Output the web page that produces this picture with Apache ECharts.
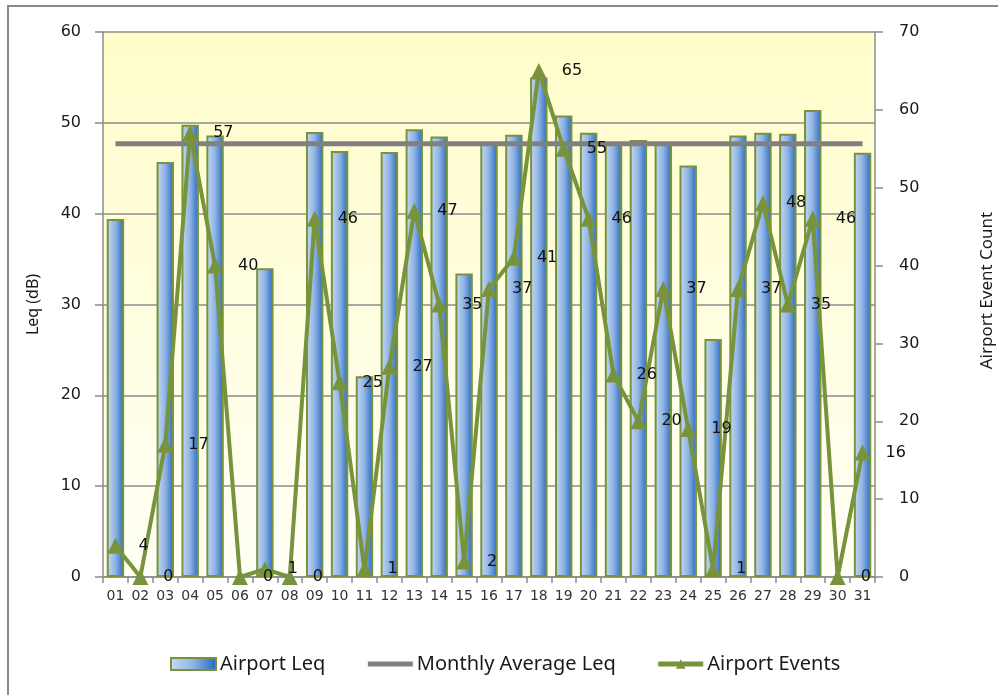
<!DOCTYPE html>
<html>
<head>
<meta charset="utf-8">
<script src="https://cdn.jsdelivr.net/npm/echarts@6/dist/echarts.min.js"></script>
<style>
html,body{margin:0;padding:0;background:#fff;}
#chart{width:998px;height:695px;}
</style>
</head>
<body>
<div id="chart"></div>
<script>
var days = ['01','02','03','04','05','06','07','08','09','10','11','12','13','14','15','16','17','18','19','20','21','22','23','24','25','26','27','28','29','30','31'];
var airportLeq = [39.4,'-',45.7,49.8,48.6,'-',34.0,'-',49.0,46.9,22.1,46.8,49.3,48.5,33.4,47.7,48.7,55.0,50.8,48.9,47.8,48.1,47.7,45.3,26.2,48.6,48.9,48.8,51.4,'-',46.7];
var monthlyAverage = [47.7,47.7,47.7,47.7,47.7,47.7,47.7,47.7,47.7,47.7,47.7,47.7,47.7,47.7,47.7,47.7,47.7,47.7,47.7,47.7,47.7,47.7,47.7,47.7,47.7,47.7,47.7,47.7,47.7,47.7,47.7];
var airportEvents = [4,0,17,57,40,0,1,0,46,25,1,27,47,35,2,37,41,65,55,46,26,20,37,19,1,37,48,35,46,0,16];

var chart = echarts.init(document.getElementById('chart'));
var green = '#77933C';
var axisGrey = '#8c8c8c';
var numFont = 'DejaVu Sans';
var txtFont = 'Noto Sans';

chart.setOption({
  animation: false,
  backgroundColor: '#ffffff',
  graphic: [{
    type: 'rect', z: -10,
    shape: {x: 8, y: 6, width: 1100, height: 800},
    style: {fill: 'none', stroke: '#8a8a8a', lineWidth: 2}
  }],
  grid: {
    left: 103, right: 123, top: 32, bottom: 118,
    outerBoundsMode: 'none', containLabel: false,
    show: true, borderWidth: 0,
    backgroundColor: new echarts.graphic.LinearGradient(0, 0, 0, 1, [
      {offset: 0, color: '#FFFDC9'},
      {offset: 1, color: '#FFFFF6'}
    ])
  },
  legend: {
    bottom: 16, left: 165,
    itemWidth: 45, itemHeight: 12, itemGap: 40,
    textStyle: {fontFamily: txtFont, fontSize: 20, color: '#1a1a1a', padding: [0,0,0,-1]},
    data: [
      {name: 'Airport Leq', icon: 'rect'},
      {name: 'Monthly Average Leq', itemStyle: {opacity: 0}, lineStyle: {width: 5, color: '#808080'}},
      {name: 'Airport Events', lineStyle: {width: 5, color: green}}
    ]
  },
  xAxis: {
    type: 'category', data: days, boundaryGap: true,
    axisLine: {lineStyle: {color: axisGrey, width: 1.5}},
    axisTick: {show: true, length: 6, lineStyle: {color: axisGrey, width: 1.5}},
    axisLabel: {fontFamily: numFont, fontSize: 14, color: '#333', margin: 12, interval: 0}
  },
  yAxis: [{
    type: 'value', min: 0, max: 60, interval: 10,
    name: 'Leq (dB)', nameLocation: 'middle', nameGap: 62, nameRotate: 90,
    nameTextStyle: {fontFamily: txtFont, fontSize: 16, color: '#1a1a1a'},
    axisLine: {show: true, lineStyle: {color: axisGrey, width: 1.5}},
    axisTick: {show: true, length: 8, lineStyle: {color: axisGrey, width: 1.5}},
    axisLabel: {fontFamily: numFont, fontSize: 16, color: '#1a1a1a', margin: 22},
    splitLine: {show: true, lineStyle: {color: axisGrey, width: 1.5}}
  }, {
    type: 'value', min: 0, max: 70, interval: 10, position: 'right',
    name: 'Airport Event Count', nameLocation: 'middle', nameGap: 104, nameRotate: 90,
    nameTextStyle: {fontFamily: txtFont, fontSize: 17, color: '#1a1a1a', padding: [0,0,0,28]},
    axisLine: {show: true, lineStyle: {color: axisGrey, width: 1.5}},
    axisTick: {show: true, length: 8, lineStyle: {color: axisGrey, width: 1.5}},
    axisLabel: {fontFamily: numFont, fontSize: 16, color: '#1a1a1a', margin: 24},
    splitLine: {show: false}
  }],
  series: [{
    name: 'Airport Leq', type: 'bar', yAxisIndex: 0, data: airportLeq,
    barWidth: '70%', z: 2,
    itemStyle: {
      color: new echarts.graphic.LinearGradient(0, 0, 1, 0, [
        {offset: 0, color: '#C8DBF2'},
        {offset: 0.5, color: '#8EB3E3'},
        {offset: 1, color: '#2466C2'}
      ]),
      borderColor: green, borderWidth: 2
    }
  }, {
    name: 'Monthly Average Leq', type: 'line', yAxisIndex: 0, data: monthlyAverage,
    symbol: 'none', z: 3,
    lineStyle: {color: '#808080', width: 5},
    itemStyle: {color: '#808080'}
  }, {
    name: 'Airport Events', type: 'line', yAxisIndex: 1, data: airportEvents,
    symbol: 'triangle', symbolSize: 16, z: 4,
    lineStyle: {color: green, width: 4},
    itemStyle: {color: green},
    label: {show: true, position: 'right', distance: 15, fontFamily: numFont, fontSize: 16, color: '#111'}
  }]
});
</script>
</body>
</html>
